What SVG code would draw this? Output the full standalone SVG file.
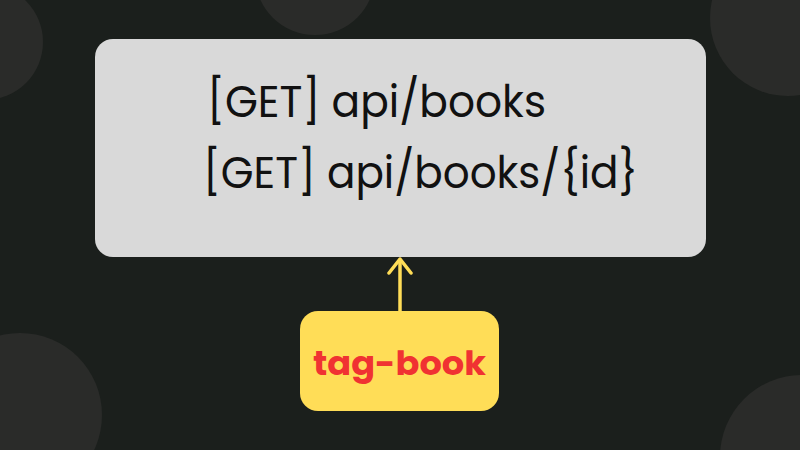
<svg xmlns="http://www.w3.org/2000/svg" width="800" height="450" viewBox="0 0 800 450">
<defs>
<style>
.bgc{fill:#2a2b29}
.route{font-family:"Poppins","Open Sans","Noto Sans",sans-serif;font-size:44px;font-weight:400;fill:#111111}
.tag{font-family:"Poppins","Open Sans","Noto Sans",sans-serif;font-size:34px;font-weight:bold;fill:#f03232}
</style>
<marker id="arr" viewBox="0 0 26 26" refX="21" refY="13" markerWidth="26" markerHeight="26" markerUnits="userSpaceOnUse" orient="auto">
<path d="M7 2 L21 13 L7 24" fill="none" stroke="#ffdd57" stroke-width="3.5" stroke-linecap="round" stroke-linejoin="round"/>
</marker>
</defs>
<rect width="800" height="450" fill="#1b1f1c"/>
<g id="background">
<circle class="bgc" cx="-15" cy="42" r="58"/>
<circle class="bgc" cx="315" cy="-25" r="60"/>
<circle class="bgc" cx="788" cy="18" r="78"/>
<circle class="bgc" cx="20" cy="415" r="82"/>
<circle class="bgc" cx="802" cy="457" r="82"/>
</g>
<g id="connectors">
<line x1="400" y1="311" x2="400" y2="259" stroke="#ffdd57" stroke-width="3.5" marker-end="url(#arr)"/>
</g>
<g id="routes">
<rect x="95" y="39" width="611" height="218" rx="18" fill="#d9d9d9"/>
<text class="route" x="207" y="117" textLength="339" lengthAdjust="spacingAndGlyphs">[GET] api/books</text>
<text class="route" x="203" y="188" textLength="435" lengthAdjust="spacingAndGlyphs">[GET] api/books/{id}</text>
</g>
<g id="tag-book">
<rect x="300" y="311" width="199" height="100" rx="18" fill="#ffdd57"/>
<text class="tag" x="313" y="375" textLength="173" lengthAdjust="spacingAndGlyphs">tag-book</text>
</g>
</svg>
